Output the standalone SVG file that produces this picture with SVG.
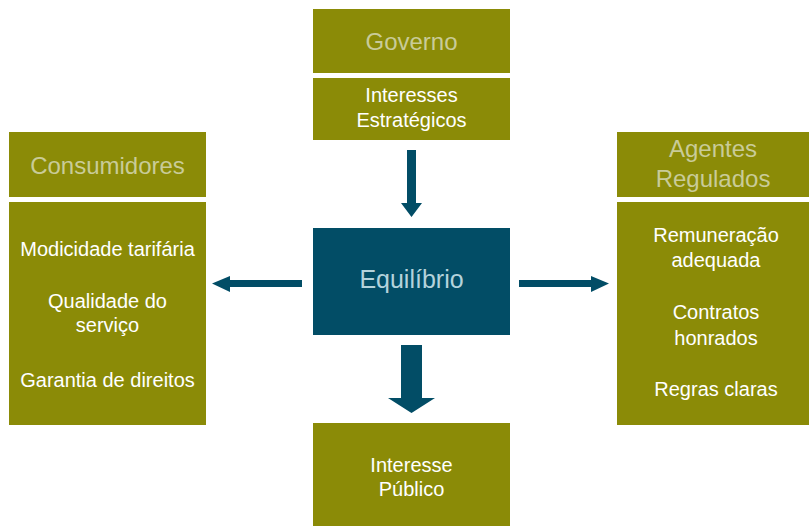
<svg xmlns="http://www.w3.org/2000/svg" width="809" height="526" viewBox="0 0 809 526">
<style>
.box{fill:#8b8b07}
.ctr{fill:#024d66}
.hd{font-family:"Liberation Sans",Arial,sans-serif;font-size:24px;fill:#c9cb98;text-anchor:middle}
.tx{font-family:"Liberation Sans",Arial,sans-serif;font-size:20px;fill:#ffffff;text-anchor:middle}
.eq{font-family:"Liberation Sans",Arial,sans-serif;font-size:25px;fill:#b4d3dc;text-anchor:middle}
.arr{fill:#024d66}
</style>
<rect width="809" height="526" fill="#ffffff"/>
<g id="governo">
<rect class="box" x="313" y="9" width="197" height="64"/>
<text class="hd" x="411.5" y="50">Governo</text>
</g>
<g id="interesses-estrategicos">
<rect class="box" x="313" y="78" width="197" height="62"/>
<text class="tx" x="411.5" y="102">Interesses</text>
<text class="tx" x="411.5" y="127">Estratégicos</text>
</g>
<g id="consumidores">
<rect class="box" x="9" y="132" width="197" height="65"/>
<text class="hd" x="107.5" y="174">Consumidores</text>
</g>
<g id="consumidores-itens">
<rect class="box" x="9" y="202" width="197" height="223"/>
<text class="tx" x="107.5" y="256">Modicidade tarifária</text>
<text class="tx" x="107.5" y="308">Qualidade do</text>
<text class="tx" x="107.5" y="332">serviço</text>
<text class="tx" x="107.5" y="387">Garantia de direitos</text>
</g>
<g id="agentes">
<rect class="box" x="617" y="132" width="192" height="65"/>
<text class="hd" x="713" y="157">Agentes</text>
<text class="hd" x="713" y="187">Regulados</text>
</g>
<g id="agentes-itens">
<rect class="box" x="617" y="202" width="192" height="223"/>
<text class="tx" x="716" y="242">Remuneração</text>
<text class="tx" x="716" y="267">adequada</text>
<text class="tx" x="716" y="319">Contratos</text>
<text class="tx" x="716" y="345">honrados</text>
<text class="tx" x="716" y="396">Regras claras</text>
</g>
<g id="equilibrio">
<rect class="ctr" x="313" y="228" width="197" height="107"/>
<text class="eq" x="411.5" y="288">Equilíbrio</text>
</g>
<g id="interesse-publico">
<rect class="box" x="313" y="423" width="197" height="103"/>
<text class="tx" x="411.5" y="472">Interesse</text>
<text class="tx" x="411.5" y="496">Público</text>
</g>
<g id="connectors">
<polygon class="arr" points="407,150 416,150 416,203 422,203 411.5,217 401,203 407,203"/>
<polygon class="arr" points="302,280 302,287 230,287 230,292 212,283.5 230,276 230,280"/>
<polygon class="arr" points="519,280 591,280 591,276 609,283.5 591,292 591,287 519,287"/>
<polygon class="arr" points="401,345 422,345 422,398 435,398 411.5,413 388,398 401,398"/>
</g>
</svg>
